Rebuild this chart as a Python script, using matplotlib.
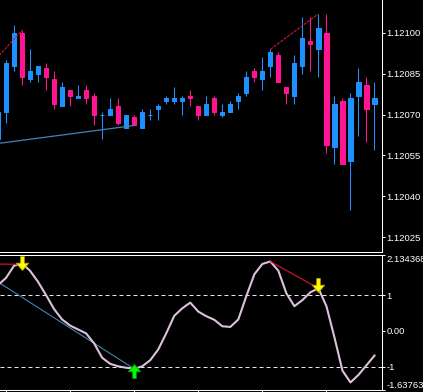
import numpy as np
import matplotlib.pyplot as plt
from matplotlib.path import Path

plt.rcParams['font.family'] = ['Liberation Sans', 'DejaVu Sans']

# EURUSD candles (oldest -> newest)
opens = [1.12061, 1.12071, 1.12088, 1.12100, 1.12083, 1.12085, 1.12087, 1.12083,
         1.12073, 1.12079, 1.12076, 1.12079, 1.12077, 1.12070, 1.12070, 1.12073,
         1.12065, 1.12069, 1.12065, 1.12070, 1.12072, 1.12075, 1.12075, 1.12075,
         1.12077, 1.12073, 1.12070, 1.12076, 1.12070, 1.12071, 1.12075, 1.12078,
         1.12086, 1.12083, 1.12088, 1.12092, 1.12080, 1.12077, 1.12088, 1.12097,
         1.12094, 1.12100, 1.12058, 1.12075, 1.12053, 1.12077, 1.12081, 1.12074]
highs = [1.12072, 1.12090, 1.12103, 1.12101, 1.12094, 1.12088, 1.12089, 1.12086,
         1.12082, 1.12079, 1.12081, 1.12081, 1.12078, 1.12071, 1.12076, 1.12076,
         1.12070, 1.12070, 1.12072, 1.12072, 1.12074, 1.12077, 1.12080, 1.12077,
         1.12079, 1.12073, 1.12077, 1.12077, 1.12074, 1.12075, 1.12078, 1.12086,
         1.12087, 1.12091, 1.12094, 1.12093, 1.12080, 1.12092, 1.12106, 1.12106,
         1.12107, 1.12107, 1.12077, 1.12076, 1.12078, 1.12087, 1.12084, 1.12082]
lows = [1.12060, 1.12067, 1.12086, 1.12081, 1.12082, 1.12082, 1.12079, 1.12072,
        1.12073, 1.12073, 1.12076, 1.12074, 1.12066, 1.12061, 1.12070, 1.12066,
        1.12065, 1.12066, 1.12065, 1.12068, 1.12068, 1.12074, 1.12074, 1.12070,
        1.12073, 1.12068, 1.12070, 1.12070, 1.12069, 1.12071, 1.12072, 1.12077,
        1.12082, 1.12079, 1.12084, 1.12082, 1.12074, 1.12074, 1.12085, 1.12086,
        1.12084, 1.12056, 1.12052, 1.12052, 1.12035, 1.12062, 1.12060, 1.12057]
closes = [1.12071, 1.12089, 1.12100, 1.12084, 1.12086, 1.12088, 1.12084, 1.12074,
          1.12080, 1.12077, 1.12077, 1.12076, 1.12070, 1.12070, 1.12072, 1.12067,
          1.12070, 1.12066, 1.12071, 1.12070, 1.12073, 1.12076, 1.12076, 1.12076,
          1.12076, 1.12070, 1.12074, 1.12071, 1.12071, 1.12074, 1.12077, 1.12084,
          1.12084, 1.12086, 1.12093, 1.12082, 1.12078, 1.12089, 1.12098, 1.12096,
          1.12102, 1.12059, 1.12074, 1.12052, 1.12076, 1.12082, 1.12072, 1.12076]

# oscillator values
osc = [1.28, 1.48, 1.82, 1.89, 1.68, 1.37, 1.00, 0.61, 0.32, 0.15, 0.04, -0.07,
       -0.35, -0.75, -0.92, -0.99, -1.03, -1.06, -0.99, -0.82, -0.52, -0.07, 0.42, 0.63,
       0.79, 0.54, 0.41, 0.31, 0.13, 0.11, 0.32, 0.97, 1.58, 1.87, 1.94, 1.68,
       1.05, 0.69, 0.86, 1.08, 1.19, 0.69, -0.18, -1.11, -1.44, -1.23, -0.96, -0.69]

price_ticks = [1.12100, 1.12085, 1.12070, 1.12055, 1.12040, 1.12025]
osc_ticks = [2.134368, 1, 0, -1, -1.637635]
osc_labels = ["2.134368", "1", "0.00", "-1", "-1.637635"]
osc_levels = [1, -1]
time_ticks = [1, 9, 17, 25, 33, 41]

# divergence lines (bar index, value)
price_bear1 = ([-1, 3], [1.12088, 1.12101])
price_bear2 = ([34, 40], [1.12094, 1.12107])
price_bull = ([-1, 17], [1.12059, 1.12066])
osc_bear1 = ([-1, 3], [1.87, 1.86])
osc_bear2 = ([34, 40], [1.94, 1.19])
osc_bull = ([-1, 17], [1.51, -1.06])
sell_idx, sell_val = [3, 40], [1.89, 1.27]
buy_idx, buy_val = [17], [-1.11]

W, H = 423, 392
fig = plt.figure(figsize=(W / 100, H / 100), dpi=100, facecolor='black')
ax1 = fig.add_axes([0, (H - 251.5) / H, 381.5 / W, 251.5 / H])
ax2 = fig.add_axes([0, 2.5 / H, 381.5 / W, 135 / H])

for ax in (ax1, ax2):
    ax.set_facecolor('black')
    ax.set_xlim(0.25, 47.875)
    ax.spines['left'].set_visible(False)
    for s in ('right', 'top', 'bottom'):
        ax.spines[s].set_color('white')
        ax.spines[s].set_linewidth(0.75)
    ax.yaxis.tick_right()
    ax.tick_params(axis='y', colors='white', labelsize=6.8, length=2.2, width=0.75, pad=1.5)
    ax.tick_params(axis='x', colors='white', length=2.2, width=0.75, labelbottom=False)
ax1.spines['top'].set_visible(False)

# candles
x = np.arange(len(opens))
o, h, l, c = (np.array(v) for v in (opens, highs, lows, closes))
colors = np.where(c >= o, '#1E90FF', '#FF1493')
ax1.vlines(x, l, h, colors=colors, lw=0.75)
ax1.bar(x, np.abs(c - o), bottom=np.minimum(o, c), width=0.52,
        color=colors, edgecolor=colors, linewidth=0.75)

ax1.plot(*price_bear1, color='#DC143C', lw=0.75, ls=(0, (3, 1)))
ax1.plot(*price_bear2, color='#DC143C', lw=0.75, ls=(0, (3, 1)))
ax1.plot(*price_bull, color='#4682B4', lw=0.9)

ax1.set_ylim(1.1201968, 1.1211213)
ax1.set_yticks(price_ticks, [f"{v:.5f}" for v in price_ticks])
ax1.set_xticks([])

# oscillator pane
ax2.set_ylim(-1.637635, 2.134368)
for lv in osc_levels:
    ax2.axhline(lv, color='#E8E8E8', lw=0.72, ls=(0, (4, 3)))
ax2.plot(x, osc, color='#DCC0DC', lw=1.5, zorder=3)
ax2.plot(*osc_bear1, color='#DC143C', lw=0.8, zorder=4)
ax2.plot(*osc_bear2, color='#DC143C', lw=0.8, zorder=4)
ax2.plot(*osc_bull, color='#4682B4', lw=0.8, zorder=2)

down = Path([(-0.13, 0.5), (0.13, 0.5), (0.13, 0.02), (0.45, 0.02), (0, -0.5),
             (-0.45, 0.02), (-0.13, 0.02), (-0.13, 0.5)],
            [Path.MOVETO] + [Path.LINETO] * 6 + [Path.CLOSEPOLY])
up = Path(down.vertices * [1, -1], down.codes)
ax2.plot(sell_idx, sell_val, ls='none', marker=down, ms=10, mfc='#FFFF00',
         mec='#B8A000', mew=0.6, zorder=5)
ax2.plot(buy_idx, buy_val, ls='none', marker=up, ms=10, mfc='#00FF00',
         mec='#00A000', mew=0.6, zorder=5)

ax2.set_yticks(osc_ticks, osc_labels)
lbls = ax2.get_yticklabels()
lbls[0].set_va('top')
lbls[-1].set_va('bottom')
ax2.set_xticks(time_ticks)

fig.savefig('out.png', dpi=100, facecolor='black')
